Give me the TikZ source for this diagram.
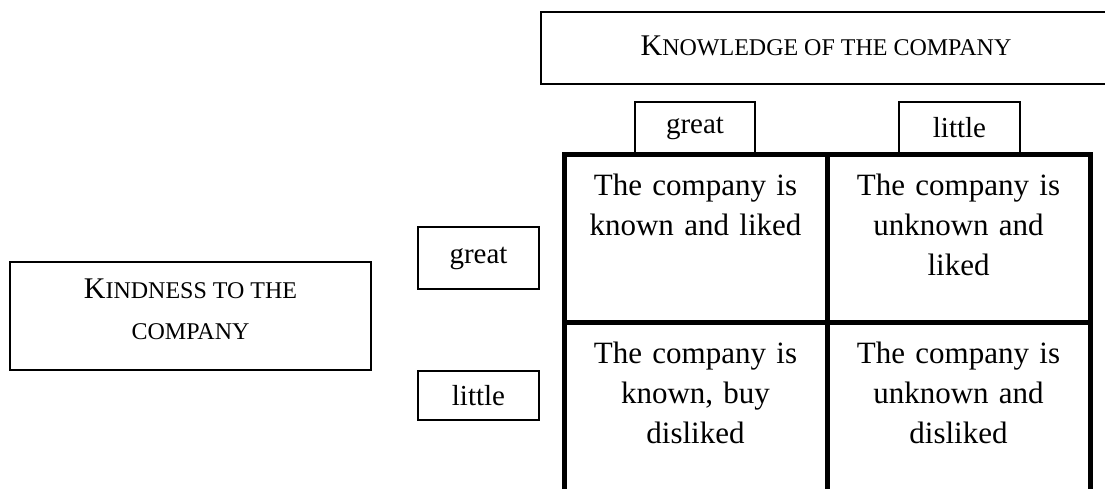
\documentclass[tikz,border=0pt]{standalone}
\usepackage{fontspec}
\setmainfont{Liberation Serif}
\newcommand{\fakesc}[2]{{\fontsize{30}{40}\selectfont #1}{\fontsize{24}{40}\selectfont #2}}
\tikzset{
  labelbox/.style={draw, line width=1.5pt, inner sep=0pt, font=\fontsize{29}{34}\selectfont},
  titlebox/.style={draw, line width=1.6pt, inner sep=0pt, align=center},
  cellline/.style={line width=5pt},
  celltext/.style={anchor=north, inner sep=0pt, text width=250pt, align=center,
    font=\fontsize{31}{40}\selectfont},
}
\begin{document}
\begin{tikzpicture}[x=1pt,y=-1pt]
\useasboundingbox (0,0) rectangle (1105,488);
% top title box (runs off the right edge)
\node[draw, line width=1.2pt, inner sep=0pt, minimum width=571pt, minimum height=72pt] (know) at (826.5,48) {};
\node[anchor=base, inner sep=0pt] (knowtxt) at (826,55) {\fakesc{K}{NOWLEDGE OF THE COMPANY}};
% column labels
\node[labelbox, minimum width=120pt, minimum height=52pt] (cgreat) at (695,128) {great};
\node[labelbox, minimum width=121pt, minimum height=52pt] (clittle) at (959.5,128) {little};
% left title box
\node[titlebox, line width=2pt, minimum width=361pt, minimum height=108pt] (kind) at (190.5,316) {};
\node[anchor=north, inner sep=0pt, align=center, font=\fontsize{30}{41}\selectfont] (kindtxt) at (190.5,279) {\fakesc{K}{INDNESS TO THE}\\\fakesc{}{COMPANY}};
% row labels
\node[labelbox, minimum width=121pt, minimum height=62pt] (rgreat) at (478.5,258) {great};
\node[labelbox, minimum width=121pt, minimum height=49pt] (rlittle) at (478.5,395.5) {little};
% grid coordinates
\coordinate (g00) at (564,154);
\coordinate (g10) at (827,154);
\coordinate (g20) at (1090,154);
\coordinate (g01) at (564,322);
\coordinate (g21) at (1090,322);
\coordinate (g02) at (564,500);
\coordinate (g12) at (827,500);
\coordinate (g22) at (1090,500);
\draw[cellline] (g02) -- (g00) -- (g20) -- (g22);
\draw[cellline] (g10) -- (g12);
\draw[cellline] (g01) -- (g21);
% cell texts
\node[celltext] (c11) at (695.5,174) {The company is\\known and liked};
\node[celltext] (c21) at (958.5,174) {The company is\\unknown and\\liked};
\node[celltext] (c12) at (695.5,342) {The company is\\known, buy\\disliked};
\node[celltext] (c22) at (958.5,342) {The company is\\unknown and\\disliked};
\end{tikzpicture}
\end{document}
